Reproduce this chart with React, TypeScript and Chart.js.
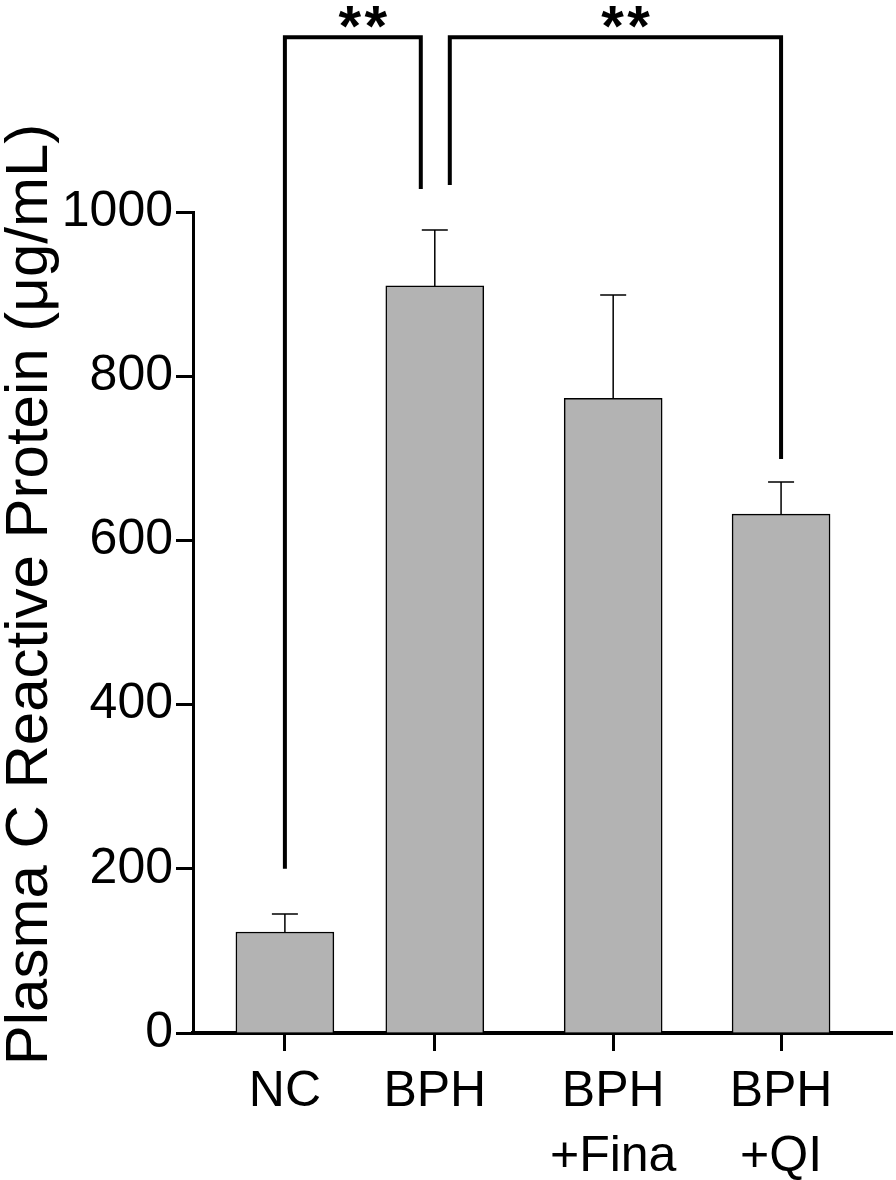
import React, { useEffect, useRef } from 'react';
import { Chart, registerables } from 'chart.js';

Chart.register(...registerables);

const categories: string[][] = [['NC'], ['BPH'], ['BPH', '+Fina'], ['BPH', '+QI']];
const groupPositions = [1, 2, 3.19, 4.31];
const means = [123, 910, 773, 632];
const errors = [22, 68, 126, 39];
const yTicks = [0, 200, 400, 600, 800, 1000];
const yTitle = 'Plasma C Reactive Protein (μg/mL)';

const brackets = [
  { from: 0, to: 1, startValue: 200, endValue: 1028, topValue: 1213, fromShift: 0, toShift: -14, label: '**' },
  { from: 1, to: 3, startValue: 1033, endValue: 699, topValue: 1213, fromShift: 15, toShift: 0, label: '**' },
];

const FONT = "'Liberation Sans', Arial, sans-serif";

const errorBarPlugin = {
  id: 'errorBars',
  afterDatasetsDraw(chart: any) {
    const ctx = chart.ctx;
    const meta = chart.getDatasetMeta(0);
    const y = chart.scales.y;
    ctx.save();
    ctx.strokeStyle = '#000';
    ctx.lineWidth = 1.5;
    meta.data.forEach((bar: any, i: number) => {
      const x = bar.x;
      const top = y.getPixelForValue(means[i] + errors[i]);
      const base = y.getPixelForValue(means[i]);
      ctx.beginPath();
      ctx.moveTo(x, base);
      ctx.lineTo(x, top);
      ctx.moveTo(x - 13, top);
      ctx.lineTo(x + 13, top);
      ctx.stroke();
    });
    ctx.restore();
  },
};

const annotationPlugin = {
  id: 'annotations',
  afterDraw(chart: any) {
    const ctx = chart.ctx;
    const xs = chart.scales.x;
    const y = chart.scales.y;
    ctx.save();
    ctx.strokeStyle = '#000';
    ctx.fillStyle = '#000';
    ctx.lineWidth = 4;
    ctx.lineCap = 'butt';
    ctx.lineJoin = 'miter';
    brackets.forEach((b) => {
      const x1 = xs.getPixelForValue(groupPositions[b.from]) + b.fromShift;
      const x2 = xs.getPixelForValue(groupPositions[b.to]) + b.toShift;
      const yTop = y.getPixelForValue(b.topValue);
      ctx.beginPath();
      ctx.moveTo(x1, y.getPixelForValue(b.startValue));
      ctx.lineTo(x1, yTop);
      ctx.lineTo(x2, yTop);
      ctx.lineTo(x2, y.getPixelForValue(b.endValue));
      ctx.stroke();
      ctx.font = `bold 58px ${FONT}`;
      ctx.textAlign = 'center';
      ctx.textBaseline = 'alphabetic';
      const cx = (x1 + x2) / 2 + 10;
      const chars = b.label.split('');
      const step = 26;
      chars.forEach((c, k) => {
        ctx.fillText(c, cx + (k - (chars.length - 1) / 2) * step, yTop + 9);
      });
    });
    // y axis title
    const area = chart.chartArea;
    ctx.translate(30, (area.top + area.bottom) / 2 - 28);
    ctx.rotate(-Math.PI / 2);
    ctx.font = `60px ${FONT}`;
    ctx.textAlign = 'center';
    ctx.textBaseline = 'middle';
    ctx.fillText(yTitle, 0, 0);
    ctx.restore();
  },
};

export default function App() {
  const canvasRef = useRef<HTMLCanvasElement | null>(null);

  useEffect(() => {
    if (!canvasRef.current) return;
    const chart = new Chart(canvasRef.current, {
      type: 'bar',
      data: {
        datasets: [
          {
            data: groupPositions.map((p, i) => ({ x: p, y: means[i] })),
            backgroundColor: '#b3b3b3',
            borderColor: '#000',
            borderWidth: 1.5,
            barThickness: 98,
          } as any,
        ],
      },
      options: {
        animation: false,
        responsive: false,
        devicePixelRatio: 1,
        layout: { padding: { top: 212, right: 4, left: 0, bottom: 0 } },
        plugins: { legend: { display: false }, tooltip: { enabled: false } },
        scales: {
          x: {
            type: 'linear',
            offset: false,
            min: 0.387,
            max: 5.05,
            afterBuildTicks: (scale: any) => {
              scale.ticks = groupPositions.map((v) => ({ value: v }));
            },
            afterFit: (scale: any) => {
              scale.height = 147;
            },
            grid: {
              display: true,
              offset: false,
              drawOnChartArea: false,
              drawTicks: true,
              tickLength: 18,
              tickWidth: 3,
              tickColor: '#000',
            },
            border: { display: true, color: '#000', width: 4 },
            ticks: {
              autoSkip: false,
              maxRotation: 0,
              color: '#000',
              padding: 9,
              font: { family: FONT, size: 50, lineHeight: 1.3 },
              callback: (_v: any, index: number) => categories[index],
            },
          } as any,
          y: {
            min: 0,
            max: 1000,
            afterBuildTicks: (scale: any) => {
              scale.ticks = yTicks.map((v) => ({ value: v }));
            },
            afterFit: (scale: any) => {
              scale.width = 193;
            },
            grid: {
              display: true,
              drawOnChartArea: false,
              drawTicks: true,
              tickLength: 17,
              tickWidth: 3,
              tickColor: '#000',
            },
            border: { display: true, color: '#000', width: 3 },
            ticks: {
              color: '#000',
              padding: 3,
              font: { family: FONT, size: 50 },
              callback: (v: any) => String(v),
            },
          } as any,
        },
      },
      plugins: [errorBarPlugin, annotationPlugin],
    });
    return () => chart.destroy();
  }, []);

  return (
    <div style={{ position: 'absolute', left: 0, top: 0, width: 896, height: 1180, background: '#fff' }}>
      <canvas ref={canvasRef} width={896} height={1180} style={{ display: 'block' }} />
    </div>
  );
}
